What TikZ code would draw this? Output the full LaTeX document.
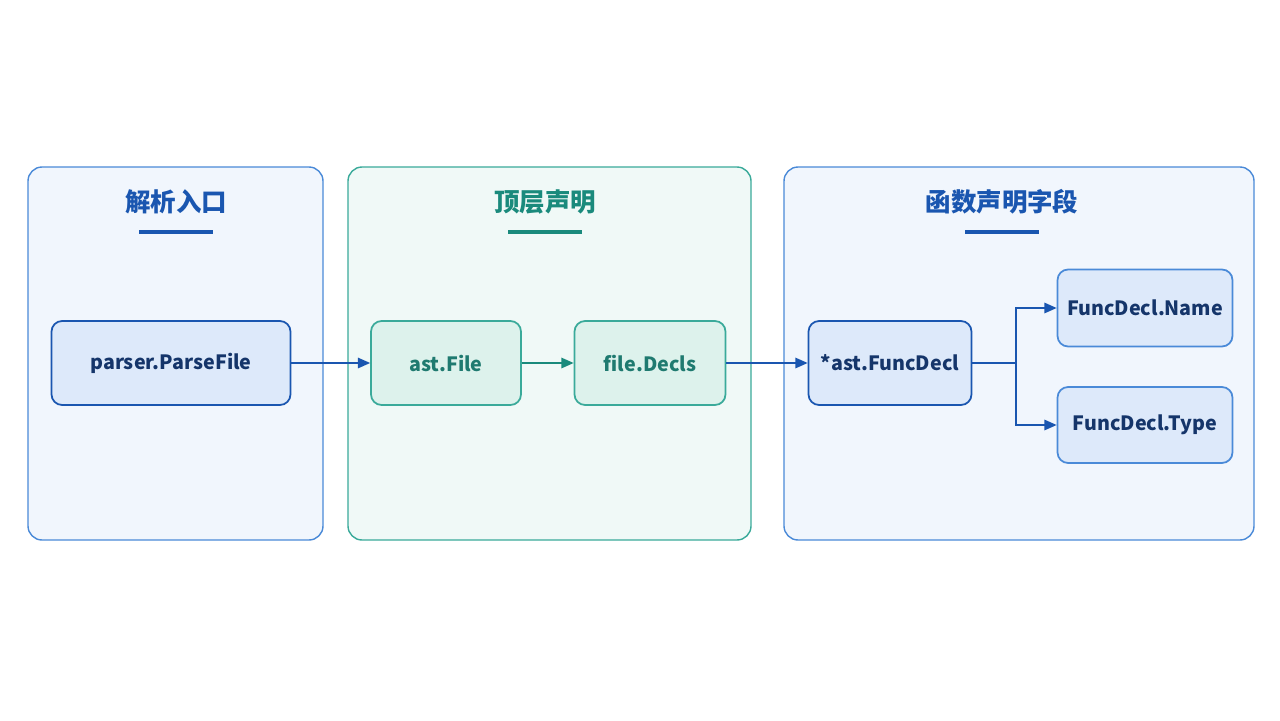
\documentclass[tikz,border=0pt]{standalone}
\usepackage{fontspec}
\setmainfont{Noto Sans CJK SC}
\usetikzlibrary{positioning}
\usetikzlibrary{arrows.meta}
\usetikzlibrary{backgrounds}
\definecolor{blueline}{HTML}{4A8AD8}
\definecolor{bluefill}{HTML}{F1F6FD}
\definecolor{bluenode}{HTML}{DDE9FA}
\definecolor{bluedark}{HTML}{1A56B0}
\definecolor{navy}{HTML}{15356A}
\definecolor{tealline}{HTML}{3AAA9A}
\definecolor{tealfill}{HTML}{F0F9F7}
\definecolor{tealnode}{HTML}{DDF2EC}
\definecolor{tealdark}{HTML}{1A8A7C}
\definecolor{tealtext}{HTML}{1F7A70}

\begin{document}
\begin{tikzpicture}[
            x = 0.02cm, y = -0.02cm, % pixel grid, y downwards
            > = {Triangle[length=7pt,width=6pt]}, % arrow head style
            thick % line style
        ]

        \tikzset{
            panel/.style = {draw = #1, line width = 0.8pt, rounded corners = 8pt},
            box/.style = {draw = #1, line width = 1pt, rounded corners = 6pt, inner sep = 0pt,
                font = \fontsize{11.2}{13}\selectfont\bfseries},
            title/.style = {font = \fontsize{14.5}{17}\selectfont\bfseries},
            bar/.style = {line width = 2.2pt, #1}
        }

        \useasboundingbox[fill = white] (0,0) rectangle (1280,720);

        % panels
        \draw[panel = blueline, fill = bluefill] (28,167) rectangle (323,540);
        \draw[panel = tealline, fill = tealfill] (348,167) rectangle (751,540);
        \draw[panel = blueline, fill = bluefill] (784,167) rectangle (1254,540);

        % titles
        \node[title, text = bluedark] (T1) at (176,202) {解析入口};
        \node[title, text = tealdark] (T2) at (545,202) {顶层声明};
        \node[title, text = bluedark] (T3) at (1002,202) {函数声明字段};
        \draw[bar = bluedark] (139,232) -- (213,232);
        \draw[bar = tealdark] (508,232) -- (582,232);
        \draw[bar = bluedark] (965,232) -- (1039,232);

        % nodes
        \node[box = bluedark, fill = bluenode, text = navy, minimum width = 4.78cm, minimum height = 1.68cm]
            (PF) at (171,363) {parser.ParseFile};
        \node[box = tealline, fill = tealnode, text = tealtext, minimum width = 3cm, minimum height = 1.68cm]
            (AF) at (446,363) {ast.File};
        \node[box = tealline, fill = tealnode, text = tealtext, minimum width = 3.02cm, minimum height = 1.68cm]
            (FD) at (650,363) {file.Decls};
        \node[box = bluedark, fill = bluenode, text = navy, minimum width = 3.26cm, minimum height = 1.68cm]
            (FN) at (890,363) {*ast.FuncDecl};
        \node[box = blueline, fill = bluenode, text = navy, minimum width = 3.5cm, minimum height = 1.54cm]
            (NM) at (1145,308) {FuncDecl.Name};
        \node[box = blueline, fill = bluenode, text = navy, minimum width = 3.5cm, minimum height = 1.52cm]
            (TY) at (1145,425) {FuncDecl.Type};

        % arrows
        \draw[->, bluedark] (PF) -- (AF);
        \draw[->, tealdark] (AF) -- (FD);
        \draw[->, bluedark] (FD) -- (FN);
        \coordinate (BR) at (1016,363);
        \draw[bluedark] (FN) -- (BR);
        \draw[->, bluedark] (BR) |- (NM);
        \draw[->, bluedark] (BR) |- (TY);

  \end{tikzpicture}
\end{document}
